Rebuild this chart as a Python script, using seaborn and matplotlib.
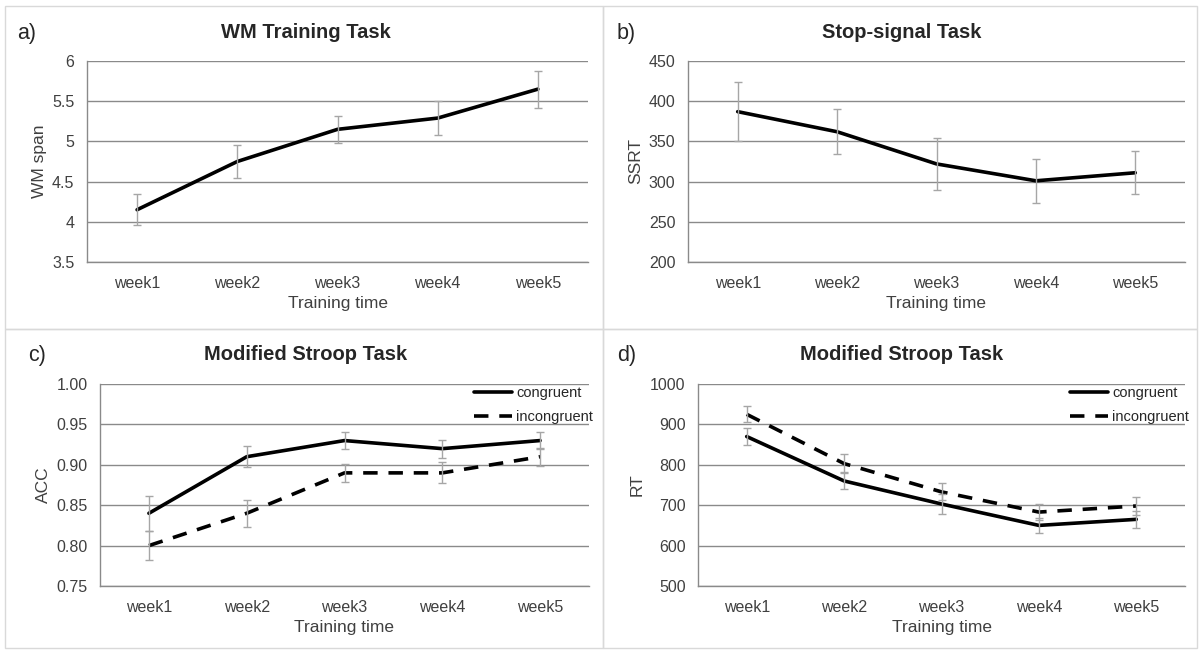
import numpy as np
import pandas as pd
import matplotlib
matplotlib.use("Agg")
import matplotlib.pyplot as plt
from matplotlib.patches import Rectangle
import seaborn as sns

# data
weeks = ["week1", "week2", "week3", "week4", "week5"]

wm_span = [4.15, 4.75, 5.15, 5.29, 5.65]
wm_err = [0.19, 0.20, 0.17, 0.21, 0.23]

ssrt = [387, 362, 322, 301, 311]
ssrt_err = [37, 28, 32, 27, 27]

acc_con = [0.84, 0.91, 0.93, 0.92, 0.93]
acc_con_err = [0.022, 0.013, 0.011, 0.011, 0.010]
acc_inc = [0.80, 0.84, 0.89, 0.89, 0.91]
acc_inc_err = [0.018, 0.017, 0.011, 0.013, 0.011]

rt_con = [870, 760, 703, 650, 665]
rt_con_err = [20, 21, 24, 19, 21]
rt_inc = [925, 803, 733, 683, 698]
rt_inc_err = [20, 24, 21, 19, 22]

sns.set_style("white")
plt.rcParams["font.family"] = ["Liberation Sans", "DejaVu Sans"]

W, H = 1202, 652
fig = plt.figure(figsize=(W / 100, H / 100), dpi=100)

grid_col = "#8a8a8a"
tick_col = "#404040"
err_col = "#a6a6a6"


def add_ax(l, t, r, b):
    return fig.add_axes([l / W, 1 - b / H, (r - l) / W, (b - t) / H])


def style_ax(ax, ylim, yticks, fmt, ylabel):
    ax.set_xlim(-0.5, len(weeks) - 0.5)
    ax.set_ylim(*ylim)
    ax.set_yticks(yticks)
    ax.set_yticklabels([fmt.format(v) for v in yticks])
    ax.set_xticks(range(len(weeks)))
    ax.set_xticklabels(weeks)
    ax.yaxis.grid(True, color=grid_col, linewidth=1)
    ax.set_axisbelow(True)
    for s in ["top", "right"]:
        ax.spines[s].set_visible(False)
    for s in ["left", "bottom"]:
        ax.spines[s].set_color(grid_col)
        ax.spines[s].set_linewidth(1)
    ax.tick_params(axis="y", length=0, labelsize=11.5, labelcolor=tick_col, pad=9)
    ax.tick_params(axis="x", length=0, labelsize=11.5, labelcolor=tick_col, pad=10)
    ax.set_xlabel("Training time", fontsize=12.5, color=tick_col, labelpad=4)
    ax.set_ylabel(ylabel, fontsize=12.5, color=tick_col, labelpad=4)


def one_line(ax, vals, errs):
    df = pd.DataFrame({"week": weeks, "value": vals})
    sns.lineplot(data=df, x="week", y="value", color="black", linewidth=2.6,
                 errorbar=None, ax=ax)
    ax.errorbar(range(len(weeks)), vals, yerr=errs, fmt="none", ecolor=err_col,
                elinewidth=1, capsize=3, capthick=1, zorder=3)


def two_lines(ax, con, con_err, inc, inc_err):
    df = pd.DataFrame({
        "week": weeks * 2,
        "value": con + inc,
        "cond": ["congruent"] * len(weeks) + ["incongruent"] * len(weeks),
    })
    sns.lineplot(data=df, x="week", y="value", style="cond", color="black",
                 dashes={"congruent": "", "incongruent": (4, 3)},
                 linewidth=2.6, errorbar=None, ax=ax)
    for vals, errs in [(con, con_err), (inc, inc_err)]:
        ax.errorbar(range(len(weeks)), vals, yerr=errs, fmt="none", ecolor=err_col,
                    elinewidth=1, capsize=3, capthick=1, zorder=3)
    handles, labels = ax.get_legend_handles_labels()
    ax.legend(handles, labels, loc="upper right", bbox_to_anchor=(1.02, 1.02),
              frameon=False, fontsize=10.5, handlelength=2.6, handletextpad=0.3,
              labelspacing=0.7, borderaxespad=0)


# panel frames
for (l, t, r, b) in [(5, 6, 603, 329), (603, 6, 1197, 329),
                     (5, 329, 603, 648), (603, 329, 1197, 648)]:
    fig.add_artist(Rectangle((l / W, 1 - b / H), (r - l) / W, (b - t) / H,
                             transform=fig.transFigure, fill=False,
                             edgecolor="#d9d9d9", linewidth=1))

# a) WM Training Task
ax1 = add_ax(87, 61, 588, 262)
one_line(ax1, wm_span, wm_err)
style_ax(ax1, (3.5, 6), [3.5, 4, 4.5, 5, 5.5, 6], "{:g}", "WM span")

# b) Stop-signal Task
ax2 = add_ax(688, 61, 1185, 262)
one_line(ax2, ssrt, ssrt_err)
style_ax(ax2, (200, 450), [200, 250, 300, 350, 400, 450], "{:g}", "SSRT")

# c) Modified Stroop Task - ACC
ax3 = add_ax(100, 384, 589, 586)
two_lines(ax3, acc_con, acc_con_err, acc_inc, acc_inc_err)
style_ax(ax3, (0.75, 1.0), [0.75, 0.80, 0.85, 0.90, 0.95, 1.00], "{:.2f}", "ACC")

# d) Modified Stroop Task - RT
ax4 = add_ax(698, 384, 1185, 586)
two_lines(ax4, rt_con, rt_con_err, rt_inc, rt_inc_err)
style_ax(ax4, (500, 1000), [500, 600, 700, 800, 900, 1000], "{:g}", "RT")

# titles and panel letters
titles = [("WM Training Task", 306, 33), ("Stop-signal Task", 902, 33),
          ("Modified Stroop Task", 306, 355), ("Modified Stroop Task", 902, 355)]
for txt, x, y in titles:
    fig.text(x / W, 1 - y / H, txt, ha="center", va="center",
             fontsize=14.5, fontweight="bold")

letters = [("a)", 17, 33), ("b)", 617, 33), ("c)", 28, 355), ("d)", 617, 355)]
for txt, x, y in letters:
    fig.text(x / W, 1 - y / H, txt, ha="left", va="center", fontsize=15.5)

fig.savefig("out.png", dpi=100)
